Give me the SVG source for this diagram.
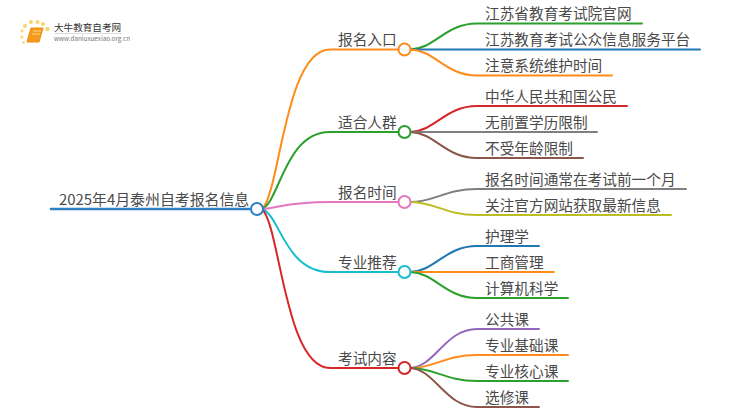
<svg xmlns="http://www.w3.org/2000/svg" width="750" height="410" viewBox="0 0 750 410">
<style>
text{font-family:"Noto Sans CJK SC","Noto Sans",sans-serif;fill:#4a4a4a}
.t{font-size:14.67px}
.c path{fill:none;stroke-width:2;stroke-linecap:round}
.n{fill:#fff;stroke-width:2}
</style>
<rect width="750" height="410" fill="#fff"/>
<g id="logo">
<g fill="#fbd36b"><circle cx="25" cy="26" r="2"/><circle cx="31" cy="22" r="2"/><circle cx="37.500" cy="22" r="2"/><circle cx="43" cy="24" r="2"/><circle cx="47.500" cy="29" r="2.200"/><circle cx="22" cy="31" r="1.500"/><circle cx="22" cy="37" r="1.500"/><circle cx="23.500" cy="42.500" r="1.200"/></g>
<path d="M31 28H43L39 42H27Z" fill="#f59a1b" stroke="#ea8a12"/>
<path d="M33 31H41M32 34H40" stroke="#fcd68c" fill="none"/>
<text x="54" y="30.500" style="font-size:9.600px;fill:#333">大牛教育自考网</text>
<path d="M54 33.500H122" stroke="#ccc" stroke-width=".7"/>
<text x="54" y="41" style="font-size:6.300px;fill:#777">www.daniuxuexiao.org.cn</text>
</g>
<g id="connectors" class="c">
<path d="M51 209H251" stroke="#2f80c2" style="stroke-width:2.500"/>
<path d="M262 209C280 193 285 49.500 330 49.500H398" stroke="#ff8c1a"/>
<path d="M262 209C280 201 285 132 330 132H398" stroke="#2ca02c"/>
<path d="M262 209C280 208 285 202 330 202H398" stroke="#e377c2"/>
<path d="M262 209C280 215 285 272 330 272H398" stroke="#17becf"/>
<path d="M262 209C280 225 285 368 330 368H398" stroke="#d62728"/>
<path d="M410 49.500C435 49 445 23.500 477 23.500H642" stroke="#2ca02c"/>
<path d="M410 49.500H700" stroke="#1f77b4"/>
<path d="M410 49.500C435 50 445 75.500 477 75.500H612" stroke="#ff8c1a"/>
<path d="M410 132C435 131.500 445 106 477 106H627" stroke="#d62728"/>
<path d="M410 132H597" stroke="#7f7f7f"/>
<path d="M410 132C435 132.500 445 158 477 158H583" stroke="#8c564b"/>
<path d="M410 202C435 202 445 189 477 189H686" stroke="#7f7f7f"/>
<path d="M410 202C435 202 445 215 477 215H671" stroke="#bcbd22"/>
<path d="M410 272C435 271.500 445 246 477 246H539" stroke="#1f77b4"/>
<path d="M410 272H554" stroke="#ff8c1a"/>
<path d="M410 272C435 272.500 445 298 477 298H568" stroke="#2ca02c"/>
<path d="M410 368C435 367 445 329 477 329H539" stroke="#9467bd"/>
<path d="M410 368C435 368 445 355 477 355H568" stroke="#ff8c1a"/>
<path d="M410 368C435 368 445 381 477 381H568" stroke="#2ca02c"/>
<path d="M410 368C435 369 445 407 477 407H539" stroke="#8c564b"/>
</g>
<g id="root"><text x="59" y="205" style="font-size:14.900px">2025年4月泰州自考报名信息</text><circle class="n" cx="257" cy="209" r="6" stroke="#2f80c2"/></g>
<g id="b1"><text class="t" x="338" y="45">报名入口</text><circle class="n" cx="404.500" cy="49.500" r="6" stroke="#ff8c1a"/></g>
<g id="b2"><text class="t" x="338" y="128">适合人群</text><circle class="n" cx="404.500" cy="132" r="6" stroke="#2ca02c"/></g>
<g id="b3"><text class="t" x="338" y="198">报名时间</text><circle class="n" cx="404.500" cy="202" r="6" stroke="#e377c2"/></g>
<g id="b4"><text class="t" x="338" y="268">专业推荐</text><circle class="n" cx="404.500" cy="272" r="6" stroke="#17becf"/></g>
<g id="b5"><text class="t" x="338" y="364">考试内容</text><circle class="n" cx="404.500" cy="368" r="6" stroke="#d62728"/></g>
<g id="l11"><text class="t" x="485" y="19">江苏省教育考试院官网</text></g>
<g id="l12"><text class="t" x="485" y="45">江苏教育考试公众信息服务平台</text></g>
<g id="l13"><text class="t" x="485" y="71">注意系统维护时间</text></g>
<g id="l21"><text class="t" x="485" y="102">中华人民共和国公民</text></g>
<g id="l22"><text class="t" x="485" y="128">无前置学历限制</text></g>
<g id="l23"><text class="t" x="485" y="154">不受年龄限制</text></g>
<g id="l31"><text class="t" x="485" y="185">报名时间通常在考试前一个月</text></g>
<g id="l32"><text class="t" x="485" y="211">关注官方网站获取最新信息</text></g>
<g id="l41"><text class="t" x="485" y="242">护理学</text></g>
<g id="l42"><text class="t" x="485" y="268">工商管理</text></g>
<g id="l43"><text class="t" x="485" y="294">计算机科学</text></g>
<g id="l51"><text class="t" x="485" y="325">公共课</text></g>
<g id="l52"><text class="t" x="485" y="351">专业基础课</text></g>
<g id="l53"><text class="t" x="485" y="377">专业核心课</text></g>
<g id="l54"><text class="t" x="485" y="403">选修课</text></g>
</svg>
